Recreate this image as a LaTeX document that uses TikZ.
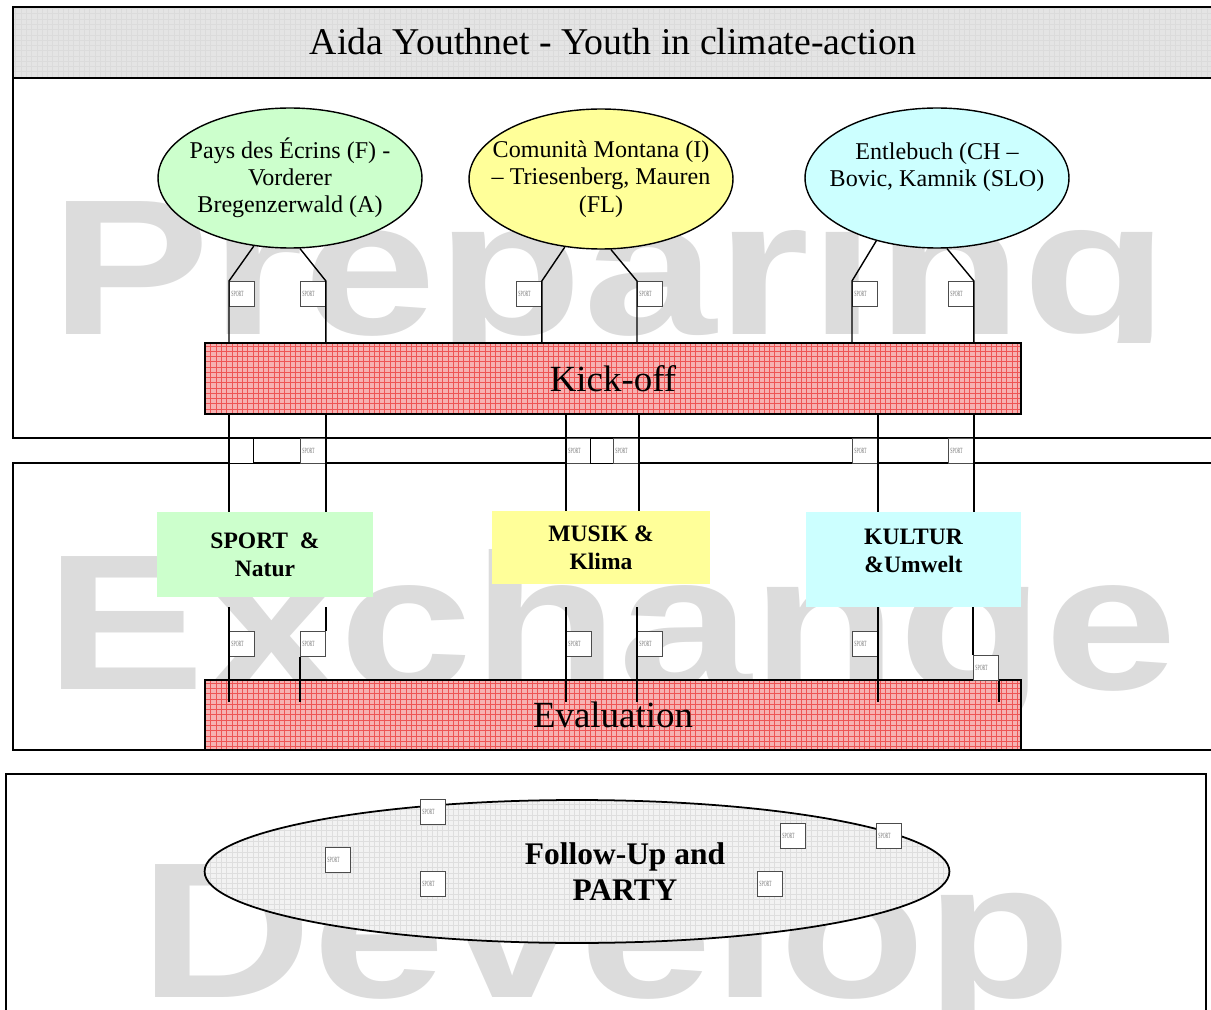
\documentclass[tikz,border=0pt]{standalone}
\usepackage{fontspec}
\setmainfont{Liberation Serif}
\newfontfamily\markfont{Liberation Sans}
\newfontfamily\tagfont[FakeStretch=0.5]{Liberation Serif}
\usepackage{xcolor}
\usetikzlibrary{shapes.geometric, positioning, calc, backgrounds, patterns}
\definecolor{aidaGreen}{HTML}{CCFFCC}
\definecolor{aidaYellow}{HTML}{FFFF99}
\definecolor{aidaCyan}{HTML}{CCFFFF}
\definecolor{aidaRed}{HTML}{F6B2B2}
\definecolor{aidaRedLine}{HTML}{EE5555}
\definecolor{aidaMark}{HTML}{DCDCDC}
\definecolor{aidaHead}{HTML}{E4E4E4}
\tikzstyle{region} = [ellipse, draw=black, line width=0.8pt, inner xsep=-14pt, inner ysep=0pt, minimum width=5.28cm, minimum height=2.8cm, align=center, font=\fontsize{13.7}{15.5}\selectfont]
\tikzstyle{theme} = [rectangle, inner sep=0pt, align=center, font=\bfseries\fontsize{13.4}{15.9}\selectfont]
\tikzstyle{stage} = [rectangle, draw=black, line width=0.8pt, preaction={fill=aidaRed}, pattern=grid, pattern color=aidaRedLine, minimum width=16.32cm, minimum height=1.42cm, font=\fontsize{21}{24}\selectfont]
\tikzstyle{sportbox} = [rectangle, draw=black!70, fill=white, line width=0.5pt, anchor=north west, minimum height=0.5cm, inner sep=0.04cm, text width=0.42cm, align=left, text=black!55, font=\tagfont\fontsize{4.5}{5}\selectfont]
\tikzstyle{blankbox} = [rectangle, draw=black, fill=white, line width=0.8pt, anchor=north west, minimum width=0.48cm, minimum height=0.5cm, inner sep=0pt]
\tikzstyle{link} = [line width=0.8pt]
\tikzstyle{frame} = [line width=1pt]
\tikzstyle{watermark} = [anchor=base, inner sep=0pt, text=aidaMark, xscale=1.24, font=\markfont\bfseries\fontsize{110}{110}\selectfont]

\begin{document}
\begin{tikzpicture}[x=0.02cm, y=-0.02cm]
\useasboundingbox (0,0) rectangle (1211,1010);

% Nodes
\node (title) [font=\fontsize{21.5}{24}\selectfont] at (613,42) {Aida Youthnet - Youth in climate-action};
\node (pays) [region, fill=aidaGreen] at (290,178) {Pays des Écrins (F) -\\Vorderer\\Bregenzerwald (A)};
\node (comunita) [region, fill=aidaYellow] at (601,179) {Comunità Montana (I)\\– Triesenberg, Mauren\\(FL)};
\node (entlebuch) [region, fill=aidaCyan] at (937,178) {Entlebuch (CH –\\Bovic, Kamnik (SLO)\\\mbox{}};
\node (kickoff) [stage] at (613,378.5) {Kick-off};
\node (natur) [theme, fill=aidaGreen, minimum width=4.32cm, minimum height=1.7cm] at (265,554.5) {SPORT\ \ \&\\Natur};
\node (klima) [theme, fill=aidaYellow, minimum width=4.36cm, minimum height=1.46cm] at (601,547.5) {MUSIK \&\\Klima};
\node (umwelt) [theme, fill=aidaCyan, minimum width=4.3cm, minimum height=1.9cm] at (913.5,559.5) {KULTUR\\\&Umwelt\\[-6pt]\mbox{}};
\node (evaluation) [stage, minimum height=1.4cm] at (613,715) {Evaluation};
\node (party) [ellipse, draw=black, line width=1pt, preaction={fill=black!5}, pattern=grid, pattern color=black!13, minimum width=14.9cm, minimum height=2.86cm] at (577,871.5) {};
\node (partytext) [align=center, font=\bfseries\fontsize{17.9}{20.4}\selectfont] at (625,872) {Follow-Up and\\PARTY};

% Tags
\node (sportA1) [sportbox] at (229,281) {SPORT};
\node (sportA2) [sportbox] at (300,281) {SPORT};
\node (sportB1) [sportbox] at (516,281) {SPORT};
\node (sportB2) [sportbox] at (637,281) {SPORT};
\node (sportC1) [sportbox] at (852,281) {SPORT};
\node (sportC2) [sportbox] at (948,281) {SPORT};

\node (blankD) [blankbox] at (229,438) {};
\node (sportD2) [sportbox] at (300,438) {SPORT};
\node (sportE1) [sportbox] at (566,438) {SPORT};
\node (blankE) [blankbox, minimum width=0.46cm] at (590,438) {};
\node (sportE2) [sportbox] at (613,438) {SPORT};
\node (sportF1) [sportbox] at (852,438) {SPORT};
\node (sportF2) [sportbox] at (948,438) {SPORT};

\node (sportG1) [sportbox] at (229,631) {SPORT};
\node (sportG2) [sportbox] at (300,631) {SPORT};
\node (sportH1) [sportbox] at (566,631) {SPORT};
\node (sportH2) [sportbox] at (637,631) {SPORT};
\node (sportI1) [sportbox] at (852,631) {SPORT};
\node (sportI2) [sportbox] at (973,655) {SPORT};

\node (sportJ1) [sportbox] at (420,799) {SPORT};
\node (sportJ2) [sportbox] at (325,847) {SPORT};
\node (sportJ3) [sportbox] at (420,871) {SPORT};
\node (sportJ4) [sportbox] at (780,823) {SPORT};
\node (sportJ5) [sportbox] at (876,823) {SPORT};
\node (sportJ6) [sportbox] at (757,871) {SPORT};

% Links
\draw [link] (pays.242) -- (sportA1.north west) -- (sportA1.north west |- kickoff.north);
\draw [link] (pays.278) -- (sportA2.north east) -- (sportA2.north east |- kickoff.north);
\draw [link] (comunita.242) -- (sportB1.north east) -- (sportB1.north east |- kickoff.north);
\draw [link] (comunita.278) -- (sportB2.north west) -- (sportB2.north west |- kickoff.north);
\draw [link] (entlebuch.226) -- (sportC1.north west) -- (sportC1.north west |- kickoff.north);
\draw [link] (entlebuch.278) -- (sportC2.north east) -- (sportC2.north east |- kickoff.north);

\draw [link] (kickoff.south -| blankD.west) -- (natur.north -| blankD.west);
\draw [link] (kickoff.south -| sportD2.east) -- (natur.north -| sportD2.east);
\draw [link] (kickoff.south -| sportE1.west) -- (klima.north -| sportE1.west);
\draw [link] (kickoff.south -| sportE2.east) -- (klima.north -| sportE2.east);
\draw [link] (kickoff.south -| sportF1.east) -- (umwelt.north -| sportF1.east);
\draw [link] (kickoff.south -| sportF2.east) -- (umwelt.north -| sportF2.east);

\draw [link] (umwelt.south -| sportG1.west) -- ($(evaluation.north -| sportG1.west)+(0,23)$);
\draw [link] (umwelt.south -| sportG2.east) -- (sportG2.north east);
\draw [link] (sportG2.south west) -- ($(evaluation.north -| sportG2.west)+(0,23)$);
\draw [link] (umwelt.south -| sportH1.west) -- ($(evaluation.north -| sportH1.west)+(0,23)$);
\draw [link] (umwelt.south -| sportH2.west) -- ($(evaluation.north -| sportH2.west)+(0,23)$);
\draw [link] (umwelt.south -| sportI1.east) -- ($(evaluation.north -| sportI1.east)+(0,23)$);
\draw [link] (umwelt.south -| sportI2.west) -- (sportI2.north west);
\draw [link] (sportI2.south east) -- ($(evaluation.north -| sportI2.east)+(0,23)$);

% Backgrounds
\begin{pgfonlayer}{background}
    \begin{scope}
        \clip (0,0) rectangle (1211,343);
        \node (prepMark) [watermark] at (610,335) {Preparing};
    \end{scope}
    \node (exchMark) [watermark] at (612,689) {Exchange};
    \node (devMark) [watermark] at (606,997) {Develop};
    \draw [frame, preaction={fill=aidaHead}, pattern=grid, pattern color=black!14] (13,7) rectangle (1240,78);
    \draw [frame] (13,7) rectangle (1240,438);
    \draw [frame] (13,463) rectangle (1240,750);
    \draw [frame] (6,774) rectangle (1206,1040);
\end{pgfonlayer}

\end{tikzpicture}
\end{document}
